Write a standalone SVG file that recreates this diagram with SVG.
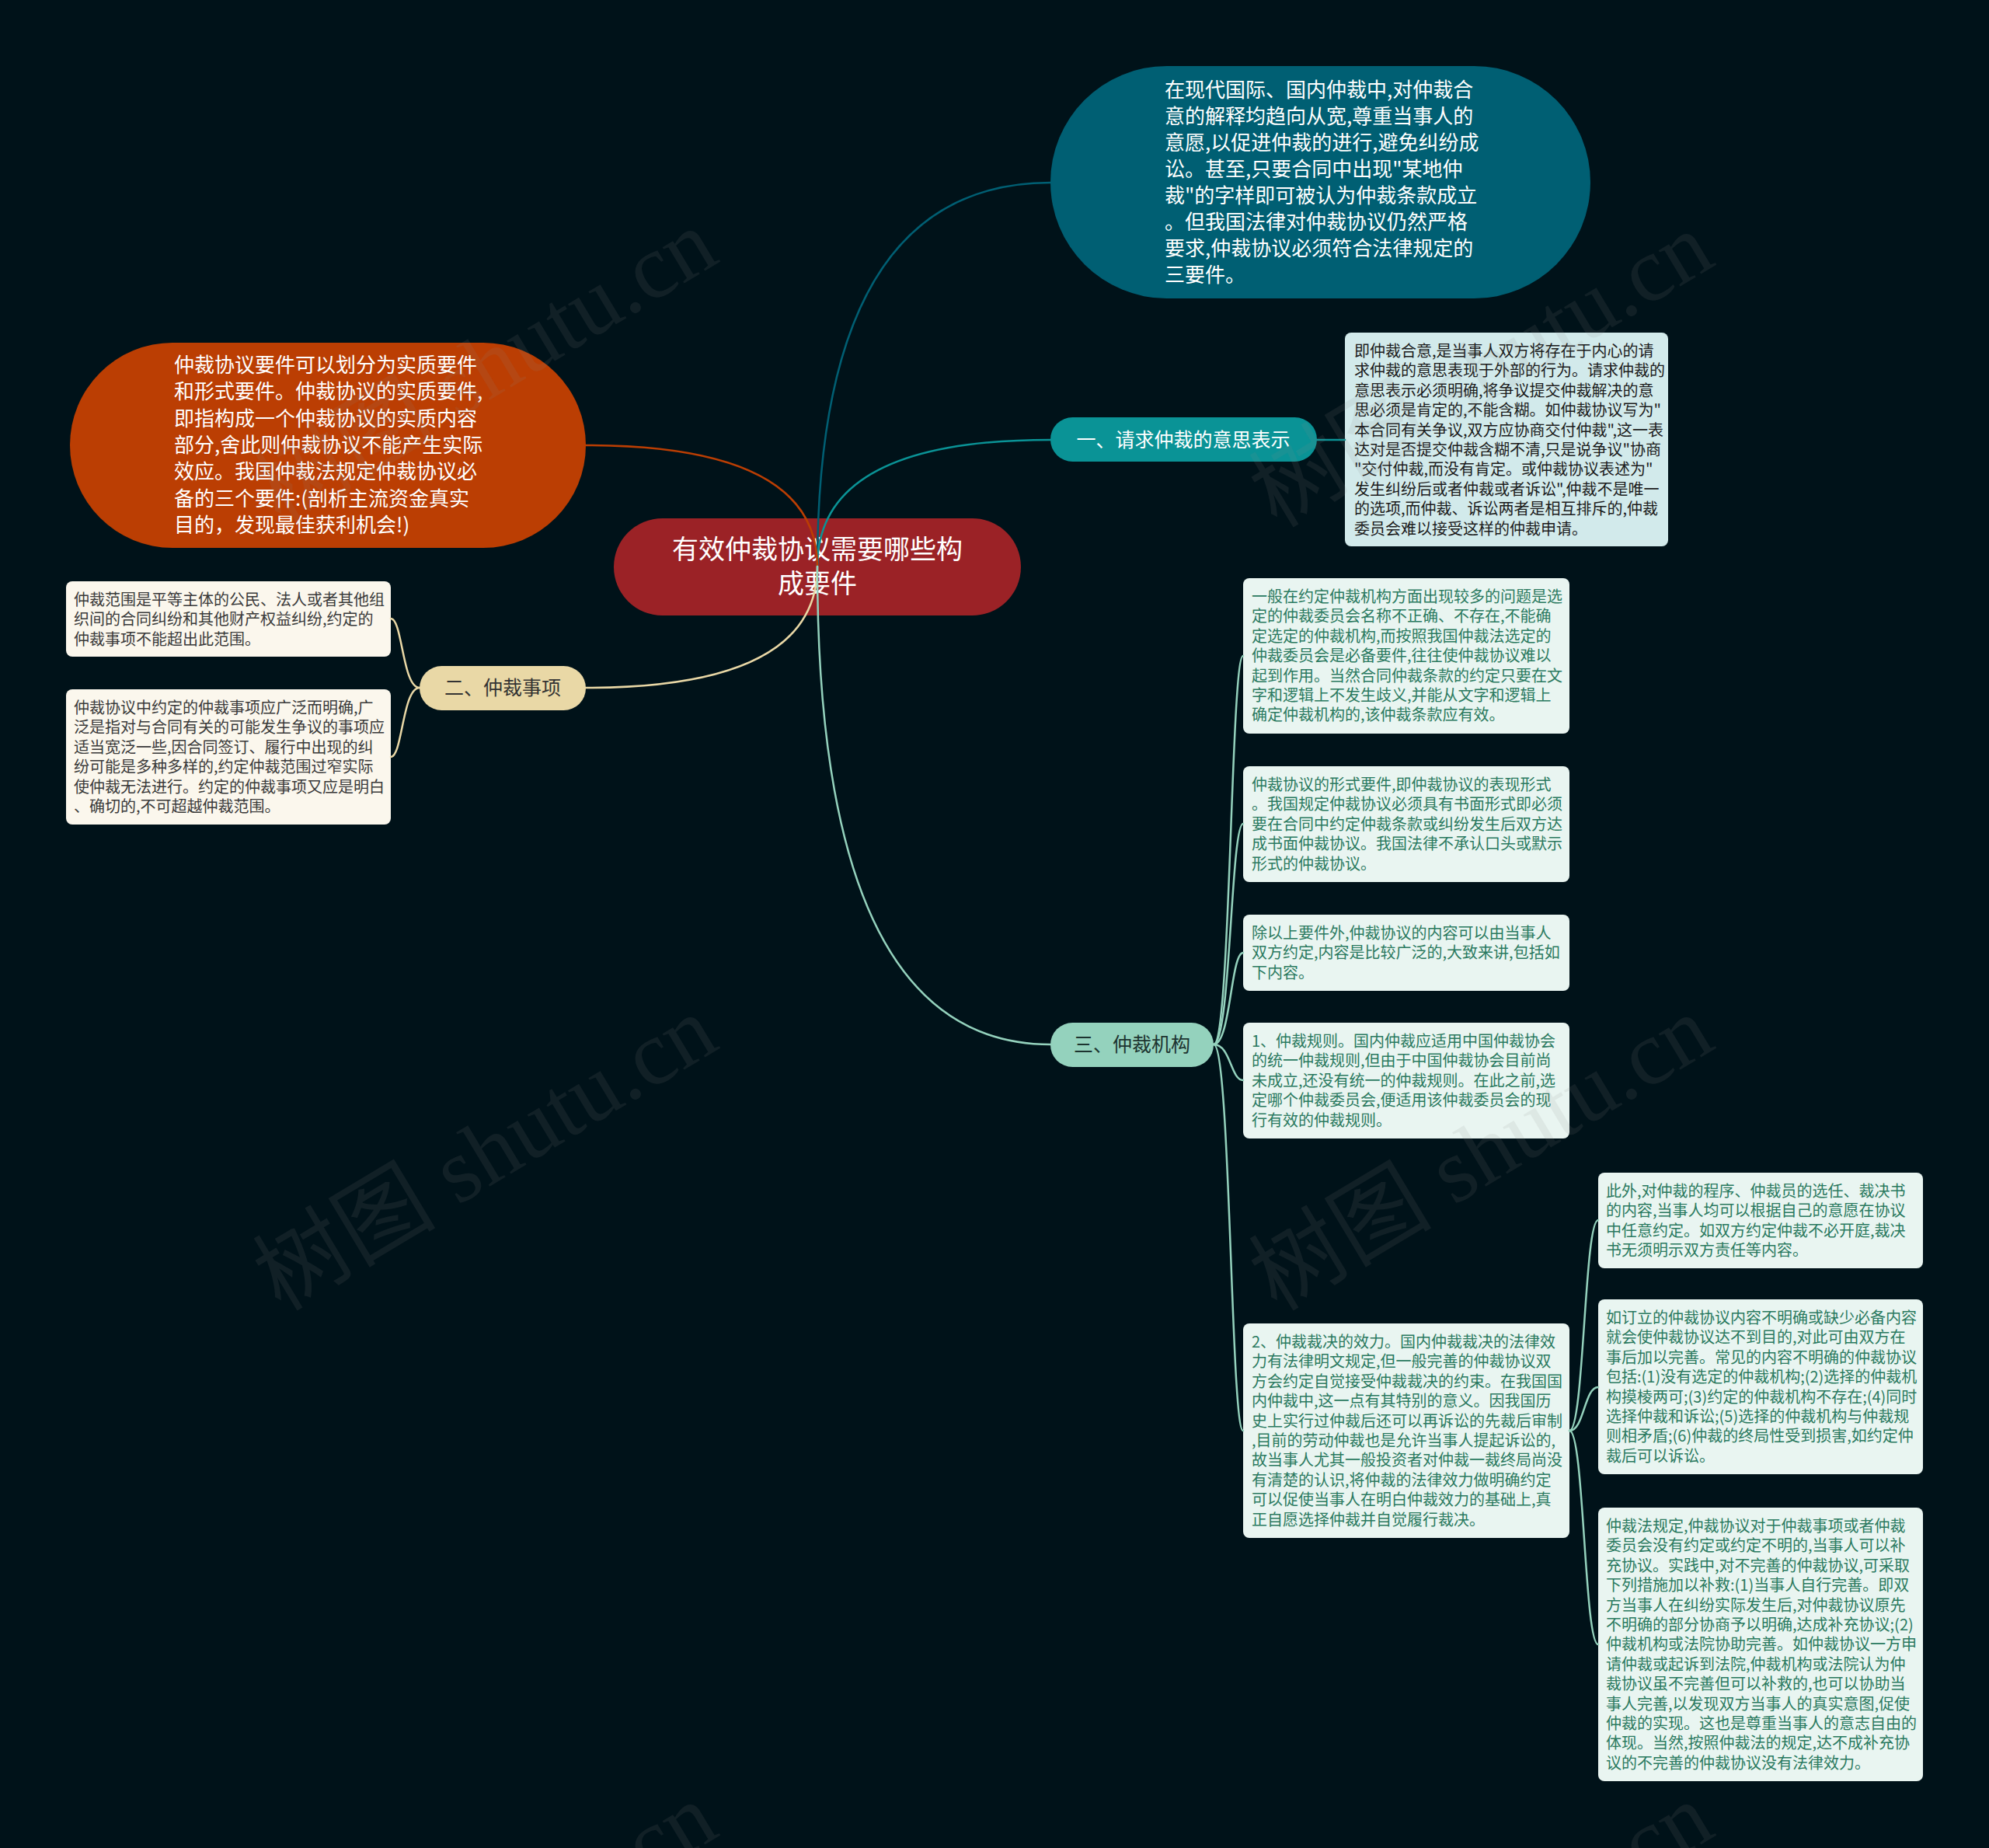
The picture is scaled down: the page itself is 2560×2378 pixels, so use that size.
<svg xmlns="http://www.w3.org/2000/svg" width="2560" height="2378" viewBox="0 0 2560 2378">
<style>
.t{font-family:"Noto Sans CJK SC","Noto Sans",sans-serif}
.big{font-size:26px;fill:#ffffff}
.lbl{font-size:25px;text-anchor:middle}
.sm{font-size:20px}
.c{fill:none;stroke-width:2.5;stroke-linecap:round}
.wm{font-family:"Liberation Serif","Noto Sans CJK SC",serif;font-size:118px;fill:#8a8a8a;fill-opacity:0.12}
</style>
<rect x="0" y="0" width="2560" height="2378" fill="#001219"/>

<g id="center">
<rect x="790" y="667" width="524" height="125" rx="62.5" fill="#9b2226"/>
<text class="t" x="1052" y="719" font-size="34" fill="#ffffff" text-anchor="middle">有效仲裁协议需要哪些构</text>
<text class="t" x="1052" y="763" font-size="34" fill="#ffffff" text-anchor="middle">成要件</text>
</g>

<g id="node-top">
<rect x="1352" y="85" width="695" height="299" rx="149.5" fill="#005f73"/>
<text class="t big" x="1499" y="125">
<tspan x="1499" dy="0">在现代国际、国内仲裁中,对仲裁合</tspan>
<tspan x="1499" dy="34">意的解释均趋向从宽,尊重当事人的</tspan>
<tspan x="1499" dy="34">意愿,以促进仲裁的进行,避免纠纷成</tspan>
<tspan x="1499" dy="34">讼。甚至,只要合同中出现"某地仲</tspan>
<tspan x="1499" dy="34">裁"的字样即可被认为仲裁条款成立</tspan>
<tspan x="1499" dy="34">。但我国法律对仲裁协议仍然严格</tspan>
<tspan x="1499" dy="34">要求,仲裁协议必须符合法律规定的</tspan>
<tspan x="1499" dy="34">三要件。</tspan>
</text>
</g>

<g id="node-left">
<rect x="90" y="441" width="664" height="264" rx="132" fill="#bb3e03"/>
<text class="t big" x="224" y="479">
<tspan x="224" dy="0">仲裁协议要件可以划分为实质要件</tspan>
<tspan x="224" dy="34.3">和形式要件。仲裁协议的实质要件,</tspan>
<tspan x="224" dy="34.3">即指构成一个仲裁协议的实质内容</tspan>
<tspan x="224" dy="34.3">部分,舍此则仲裁协议不能产生实际</tspan>
<tspan x="224" dy="34.3">效应。我国仲裁法规定仲裁协议必</tspan>
<tspan x="224" dy="34.3">备的三个要件:(剖析主流资金真实</tspan>
<tspan x="224" dy="34.3">目的，发现最佳获利机会!)</tspan>
</text>
</g>

<g id="node-1">
<rect x="1352" y="537" width="343" height="57" rx="28.5" fill="#0a9396"/>
<text class="t lbl" x="1523" y="575" fill="#ffffff">一、请求仲裁的意思表示</text>
</g>

<g id="node-1-text">
<rect x="1731" y="428" width="416" height="275" rx="8" fill="#d2eaeb"/>
<text class="t sm" x="1743" y="459" fill="#1c1c1c">
<tspan x="1743" dy="0">即仲裁合意,是当事人双方将存在于内心的请</tspan>
<tspan x="1743" dy="25.4">求仲裁的意思表现于外部的行为。请求仲裁的</tspan>
<tspan x="1743" dy="25.4">意思表示必须明确,将争议提交仲裁解决的意</tspan>
<tspan x="1743" dy="25.4">思必须是肯定的,不能含糊。如仲裁协议写为"</tspan>
<tspan x="1743" dy="25.4">本合同有关争议,双方应协商交付仲裁",这一表</tspan>
<tspan x="1743" dy="25.4">达对是否提交仲裁含糊不清,只是说争议"协商</tspan>
<tspan x="1743" dy="25.4">"交付仲裁,而没有肯定。或仲裁协议表述为"</tspan>
<tspan x="1743" dy="25.4">发生纠纷后或者仲裁或者诉讼",仲裁不是唯一</tspan>
<tspan x="1743" dy="25.4">的选项,而仲裁、诉讼两者是相互排斥的,仲裁</tspan>
<tspan x="1743" dy="25.4">委员会难以接受这样的仲裁申请。</tspan>
</text>
</g>

<g id="node-2">
<rect x="540" y="857" width="214" height="57" rx="28.5" fill="#e9d8a6"/>
<text class="t lbl" x="647" y="894" fill="#333333">二、仲裁事项</text>
</g>

<g id="node-2-a">
<rect x="85" y="748" width="418" height="97" rx="8" fill="#fbf7ed"/>
<text class="t sm" x="95" y="779" fill="#3a3a3a">
<tspan x="95" dy="0">仲裁范围是平等主体的公民、法人或者其他组</tspan>
<tspan x="95" dy="25.4">织间的合同纠纷和其他财产权益纠纷,约定的</tspan>
<tspan x="95" dy="25.4">仲裁事项不能超出此范围。</tspan>
</text>
</g>

<g id="node-2-b">
<rect x="85" y="887" width="418" height="174" rx="8" fill="#fbf7ed"/>
<text class="t sm" x="95" y="918" fill="#3a3a3a">
<tspan x="95" dy="0">仲裁协议中约定的仲裁事项应广泛而明确,广</tspan>
<tspan x="95" dy="25.4">泛是指对与合同有关的可能发生争议的事项应</tspan>
<tspan x="95" dy="25.4">适当宽泛一些,因合同签订、履行中出现的纠</tspan>
<tspan x="95" dy="25.4">纷可能是多种多样的,约定仲裁范围过窄实际</tspan>
<tspan x="95" dy="25.4">使仲裁无法进行。约定的仲裁事项又应是明白</tspan>
<tspan x="95" dy="25.4">、确切的,不可超越仲裁范围。</tspan>
</text>
</g>

<g id="node-3">
<rect x="1352" y="1316" width="210" height="57" rx="28.5" fill="#94d2bd"/>
<text class="t lbl" x="1457" y="1353" fill="#1d3430">三、仲裁机构</text>
</g>

<g id="node-3-a">
<rect x="1600" y="744" width="420" height="200" rx="8" fill="#e9f5f1"/>
<text class="t sm" x="1611" y="775" fill="#2b7a60">
<tspan x="1611" dy="0">一般在约定仲裁机构方面出现较多的问题是选</tspan>
<tspan x="1611" dy="25.4">定的仲裁委员会名称不正确、不存在,不能确</tspan>
<tspan x="1611" dy="25.4">定选定的仲裁机构,而按照我国仲裁法选定的</tspan>
<tspan x="1611" dy="25.4">仲裁委员会是必备要件,往往使仲裁协议难以</tspan>
<tspan x="1611" dy="25.4">起到作用。当然合同仲裁条款的约定只要在文</tspan>
<tspan x="1611" dy="25.4">字和逻辑上不发生歧义,并能从文字和逻辑上</tspan>
<tspan x="1611" dy="25.4">确定仲裁机构的,该仲裁条款应有效。</tspan>
</text>
</g>

<g id="node-3-b">
<rect x="1600" y="986" width="420" height="149" rx="8" fill="#e9f5f1"/>
<text class="t sm" x="1611" y="1017" fill="#2b7a60">
<tspan x="1611" dy="0">仲裁协议的形式要件,即仲裁协议的表现形式</tspan>
<tspan x="1611" dy="25.4">。我国规定仲裁协议必须具有书面形式即必须</tspan>
<tspan x="1611" dy="25.4">要在合同中约定仲裁条款或纠纷发生后双方达</tspan>
<tspan x="1611" dy="25.4">成书面仲裁协议。我国法律不承认口头或默示</tspan>
<tspan x="1611" dy="25.4">形式的仲裁协议。</tspan>
</text>
</g>

<g id="node-3-c">
<rect x="1600" y="1177" width="420" height="98" rx="8" fill="#e9f5f1"/>
<text class="t sm" x="1611" y="1208" fill="#2b7a60">
<tspan x="1611" dy="0">除以上要件外,仲裁协议的内容可以由当事人</tspan>
<tspan x="1611" dy="25.4">双方约定,内容是比较广泛的,大致来讲,包括如</tspan>
<tspan x="1611" dy="25.4">下内容。</tspan>
</text>
</g>

<g id="node-3-d">
<rect x="1600" y="1316" width="420" height="149" rx="8" fill="#e9f5f1"/>
<text class="t sm" x="1611" y="1347" fill="#2b7a60">
<tspan x="1611" dy="0">1、仲裁规则。国内仲裁应适用中国仲裁协会</tspan>
<tspan x="1611" dy="25.4">的统一仲裁规则,但由于中国仲裁协会目前尚</tspan>
<tspan x="1611" dy="25.4">未成立,还没有统一的仲裁规则。在此之前,选</tspan>
<tspan x="1611" dy="25.4">定哪个仲裁委员会,便适用该仲裁委员会的现</tspan>
<tspan x="1611" dy="25.4">行有效的仲裁规则。</tspan>
</text>
</g>

<g id="node-3-e">
<rect x="1600" y="1703" width="420" height="276" rx="8" fill="#e9f5f1"/>
<text class="t sm" x="1611" y="1734" fill="#2b7a60">
<tspan x="1611" dy="0">2、仲裁裁决的效力。国内仲裁裁决的法律效</tspan>
<tspan x="1611" dy="25.4">力有法律明文规定,但一般完善的仲裁协议双</tspan>
<tspan x="1611" dy="25.4">方会约定自觉接受仲裁裁决的约束。在我国国</tspan>
<tspan x="1611" dy="25.4">内仲裁中,这一点有其特别的意义。因我国历</tspan>
<tspan x="1611" dy="25.4">史上实行过仲裁后还可以再诉讼的先裁后审制</tspan>
<tspan x="1611" dy="25.4">,目前的劳动仲裁也是允许当事人提起诉讼的,</tspan>
<tspan x="1611" dy="25.4">故当事人尤其一般投资者对仲裁一裁终局尚没</tspan>
<tspan x="1611" dy="25.4">有清楚的认识,将仲裁的法律效力做明确约定</tspan>
<tspan x="1611" dy="25.4">可以促使当事人在明白仲裁效力的基础上,真</tspan>
<tspan x="1611" dy="25.4">正自愿选择仲裁并自觉履行裁决。</tspan>
</text>
</g>

<g id="node-3-e-1">
<rect x="2057" y="1509" width="418" height="123" rx="8" fill="#e9f5f1"/>
<text class="t sm" x="2067" y="1540" fill="#2b7a60">
<tspan x="2067" dy="0">此外,对仲裁的程序、仲裁员的选任、裁决书</tspan>
<tspan x="2067" dy="25.4">的内容,当事人均可以根据自己的意愿在协议</tspan>
<tspan x="2067" dy="25.4">中任意约定。如双方约定仲裁不必开庭,裁决</tspan>
<tspan x="2067" dy="25.4">书无须明示双方责任等内容。</tspan>
</text>
</g>

<g id="node-3-e-2">
<rect x="2057" y="1672" width="418" height="225" rx="8" fill="#e9f5f1"/>
<text class="t sm" x="2067" y="1703" fill="#2b7a60">
<tspan x="2067" dy="0">如订立的仲裁协议内容不明确或缺少必备内容</tspan>
<tspan x="2067" dy="25.4">就会使仲裁协议达不到目的,对此可由双方在</tspan>
<tspan x="2067" dy="25.4">事后加以完善。常见的内容不明确的仲裁协议</tspan>
<tspan x="2067" dy="25.4">包括:(1)没有选定的仲裁机构;(2)选择的仲裁机</tspan>
<tspan x="2067" dy="25.4">构摸棱两可;(3)约定的仲裁机构不存在;(4)同时</tspan>
<tspan x="2067" dy="25.4">选择仲裁和诉讼;(5)选择的仲裁机构与仲裁规</tspan>
<tspan x="2067" dy="25.4">则相矛盾;(6)仲裁的终局性受到损害,如约定仲</tspan>
<tspan x="2067" dy="25.4">裁后可以诉讼。</tspan>
</text>
</g>

<g id="node-3-e-3">
<rect x="2057" y="1940" width="418" height="352" rx="8" fill="#e9f5f1"/>
<text class="t sm" x="2067" y="1971" fill="#2b7a60">
<tspan x="2067" dy="0">仲裁法规定,仲裁协议对于仲裁事项或者仲裁</tspan>
<tspan x="2067" dy="25.4">委员会没有约定或约定不明的,当事人可以补</tspan>
<tspan x="2067" dy="25.4">充协议。实践中,对不完善的仲裁协议,可采取</tspan>
<tspan x="2067" dy="25.4">下列措施加以补救:(1)当事人自行完善。即双</tspan>
<tspan x="2067" dy="25.4">方当事人在纠纷实际发生后,对仲裁协议原先</tspan>
<tspan x="2067" dy="25.4">不明确的部分协商予以明确,达成补充协议;(2)</tspan>
<tspan x="2067" dy="25.4">仲裁机构或法院协助完善。如仲裁协议一方申</tspan>
<tspan x="2067" dy="25.4">请仲裁或起诉到法院,仲裁机构或法院认为仲</tspan>
<tspan x="2067" dy="25.4">裁协议虽不完善但可以补救的,也可以协助当</tspan>
<tspan x="2067" dy="25.4">事人完善,以发现双方当事人的真实意图,促使</tspan>
<tspan x="2067" dy="25.4">仲裁的实现。这也是尊重当事人的意志自由的</tspan>
<tspan x="2067" dy="25.4">体现。当然,按照仲裁法的规定,达不成补充协</tspan>
<tspan x="2067" dy="25.4">议的不完善的仲裁协议没有法律效力。</tspan>
</text>
</g>

<g id="connectors">
<path class="c" stroke="#005f73" d="M1052,729 Q1052,235 1352,235"/>
<path class="c" stroke="#0a9396" d="M1052,729 Q1052,566 1352,566"/>
<path class="c" stroke="#bb3e03" d="M754,573 Q1052,573 1052,729"/>
<path class="c" stroke="#e9d8a6" d="M754,885 Q1052,885 1052,729"/>
<path class="c" stroke="#94d2bd" d="M1052,729 Q1052,1344 1352,1344"/>
<path class="c" stroke="#0a9396" d="M1695,566 L1731,566"/>
<path class="c" stroke="#e9d8a6" d="M540,885 C518,885 518,796 503,796"/>
<path class="c" stroke="#e9d8a6" d="M540,885 C518,885 518,974 503,974"/>
<path class="c" stroke="#94d2bd" d="M1562,1344 C1584,1344 1584,844 1600,844"/>
<path class="c" stroke="#94d2bd" d="M1562,1344 C1584,1344 1584,1060 1600,1060"/>
<path class="c" stroke="#94d2bd" d="M1562,1344 C1584,1344 1584,1226 1600,1226"/>
<path class="c" stroke="#94d2bd" d="M1562,1344 C1584,1344 1584,1390 1600,1390"/>
<path class="c" stroke="#94d2bd" d="M1562,1344 C1584,1344 1584,1841 1600,1841"/>
<path class="c" stroke="#94d2bd" d="M2020,1841 C2039,1841 2039,1570 2057,1570"/>
<path class="c" stroke="#94d2bd" d="M2020,1841 C2039,1841 2039,1785 2057,1785"/>
<path class="c" stroke="#94d2bd" d="M2020,1841 C2039,1841 2039,2116 2057,2116"/>
</g>

<g id="watermarks">
<text class="wm" text-anchor="middle" transform="translate(645,506) rotate(-31)">树图 shutu.cn</text>
<text class="wm" text-anchor="middle" transform="translate(1927,510) rotate(-31)">树图 shutu.cn</text>
<text class="wm" text-anchor="middle" transform="translate(645,1518) rotate(-31)">树图 shutu.cn</text>
<text class="wm" text-anchor="middle" transform="translate(1927,1518) rotate(-31)">树图 shutu.cn</text>
<text class="wm" text-anchor="middle" transform="translate(645,2531) rotate(-31)">树图 shutu.cn</text>
<text class="wm" text-anchor="middle" transform="translate(1927,2531) rotate(-31)">树图 shutu.cn</text>
</g>
</svg>
